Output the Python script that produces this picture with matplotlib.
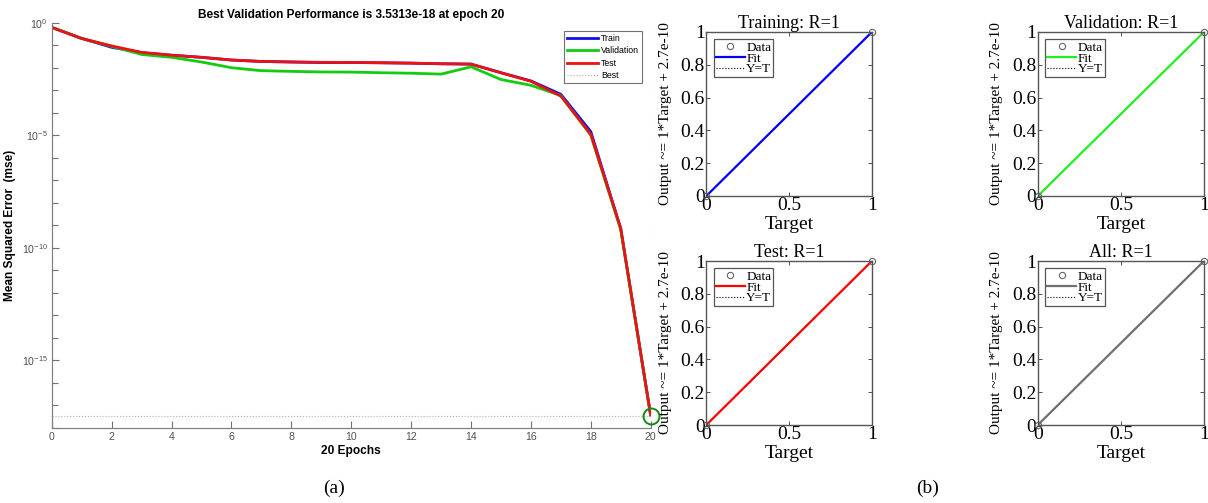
import matplotlib
matplotlib.use("Agg")
import matplotlib.pyplot as plt
from matplotlib.lines import Line2D
import matplotlib.ticker as mticker

plt.rcParams['mathtext.fontset'] = 'custom'
plt.rcParams['mathtext.rm'] = 'Liberation Sans'
plt.rcParams['mathtext.default'] = 'rm'

# ---------------- data ----------------
epochs = list(range(21))
train_mse = [0.62, 0.20, 0.081, 0.047, 0.036, 0.029, 0.022, 0.019, 0.018, 0.017, 0.017,
             0.0166, 0.016, 0.015, 0.0145, 6.0e-3, 2.6e-3, 6.6e-4, 1.45e-5, 7.2e-10, 3.5e-18]
val_mse = [0.62, 0.20, 0.089, 0.039, 0.029, 0.018, 0.010, 7.4e-3, 6.9e-3, 6.5e-3, 6.4e-3,
           6.0e-3, 5.7e-3, 5.2e-3, 0.011, 3.0e-3, 1.66e-3, 5.8e-4, 1.0e-5, 6.3e-10, 3.5313e-18]
test_mse = [0.62, 0.20, 0.093, 0.048, 0.036, 0.029, 0.022, 0.019, 0.018, 0.0174, 0.0172,
            0.0166, 0.016, 0.015, 0.0145, 6.0e-3, 2.5e-3, 5.5e-4, 1.1e-5, 7.2e-10, 3.6e-18]
best_epoch = 20
best_perf = 3.5313e-18
perf_title = "Best Validation Performance is 3.5313e-18 at epoch 20"
xticks_perf = [0, 2, 4, 6, 8, 10, 12, 14, 16, 18, 20]
yticks_perf = [1e0, 1e-5, 1e-10, 1e-15]
ytick_labels_perf = [r'$10^{0}$', r'$10^{-5}$', r'$10^{-10}$', r'$10^{-15}$']

reg_titles = ["Training: R=1", "Validation: R=1", "Test: R=1", "All: R=1"]
reg_colors = ["#0000ff", "#22ee22", "#ff0000", "#707070"]
reg_target = [0, 1]
reg_output = [0, 1]
reg_ylabel = "Output ~= 1*Target + 2.7e-10"
reg_xticks = [0, 0.5, 1]
reg_xticklabels = ["0", "0.5", "1"]
reg_yticks = [0, 0.2, 0.4, 0.6, 0.8, 1]
reg_yticklabels = ["0", "0.2", "0.4", "0.6", "0.8", "1"]

W, H = 1208, 503
fig = plt.figure(figsize=(W / 100, H / 100), dpi=100)
fig.patch.set_facecolor('white')

def frac(left, top, right, bottom):
    return [left / W, 1 - bottom / H, (right - left) / W, (bottom - top) / H]

# ---------------- (a) performance plot ----------------
sans = 'Liberation Sans'
ax = fig.add_axes(frac(51.7, 22.7, 650.7, 428))
ax.plot(epochs, train_mse, color='#1010ee', lw=2.0, label='Train', solid_capstyle='round')
ax.plot(epochs, val_mse, color='#11cc11', lw=2.0, label='Validation', solid_capstyle='round')
ax.plot(epochs, test_mse, color='#ee1111', lw=2.0, label='Test', solid_capstyle='round')
ax.axhline(best_perf, color='#a0b8a0', ls=':', lw=0.8)
ax.axvline(best_epoch, color='#a0b8a0', ls=':', lw=0.8)
ax.plot([best_epoch], [best_perf], 'o', ms=11.5, mfc='none', mec='#118811', mew=1.4,
        clip_on=False)
ax.set_yscale('log')
ax.set_xlim(0, 20)
ax.set_ylim(1e-18, 1e0)
ax.set_xticks(xticks_perf)
ax.set_xticklabels([str(v) for v in xticks_perf])
ax.set_yticks(yticks_perf)
ax.set_yticklabels(ytick_labels_perf)
ax.yaxis.set_minor_locator(mticker.LogLocator(base=10, subs=(1.0,), numticks=40))
ax.yaxis.set_minor_formatter(mticker.NullFormatter())
ax.tick_params(axis='both', which='both', direction='in', colors='#707070',
               labelcolor='#505050', labelsize=7.6, width=0.8)
ax.tick_params(axis='both', which='major', length=5, pad=3)
ax.tick_params(axis='y', which='minor', length=4)
for s in ['top', 'right']:
    ax.spines[s].set_visible(False)
for s in ['left', 'bottom']:
    ax.spines[s].set_color('#808080')
    ax.spines[s].set_linewidth(0.9)
for t in ax.get_xticklabels() + ax.get_yticklabels():
    t.set_family(sans)
ax.set_title(perf_title, fontsize=8.6, fontweight='bold', family=sans, pad=3.5)
ax.set_xlabel("20 Epochs", fontsize=8.6, fontweight='bold', family=sans, labelpad=2)
ax.set_ylabel("Mean Squared Error  (mse)", fontsize=8.6, fontweight='bold', family=sans,
              labelpad=4)
handles = [Line2D([], [], color='#1010ee', lw=2), Line2D([], [], color='#11cc11', lw=2),
           Line2D([], [], color='#ee1111', lw=2), Line2D([], [], color='#a0b8a0', lw=0.8, ls=':')]
leg = ax.legend(handles, ['Train', 'Validation', 'Test', 'Best'], loc='upper right',
                bbox_to_anchor=(0.9855, 0.980), fancybox=False, framealpha=1,
                prop={'family': sans, 'size': 6.3}, handlelength=3.6, handletextpad=0.3,
                labelspacing=0.4, borderpad=0.35, borderaxespad=0)
leg.get_frame().set_edgecolor('#707070')
leg.get_frame().set_linewidth(0.8)

# ---------------- (b) regression plots ----------------
serif = 'Liberation Serif'
boxes = [(706.3, 32, 871.9, 196), (1037.8, 32, 1204, 196),
         (706.3, 261, 871.9, 425), (1037.8, 261, 1204, 425)]
for i in range(4):
    l, t, r, b = boxes[i]
    a = fig.add_axes(frac(l, t, r, b))
    a.plot(reg_target, reg_target, ls=':', color='black', lw=0.8)
    a.plot(reg_target, reg_output, color=reg_colors[i], lw=1.6)
    a.plot(reg_target, reg_output, 'o', ms=4.5, mfc='none', mec='#666666', mew=0.8,
           clip_on=False)
    a.set_xlim(0, 1)
    a.set_ylim(0, 1)
    a.set_xticks(reg_xticks)
    a.set_xticklabels(reg_xticklabels)
    a.set_yticks(reg_yticks)
    a.set_yticklabels(reg_yticklabels)
    a.tick_params(direction='in', top=True, right=True, length=3, width=0.7,
                  colors='#505050', labelcolor='black', labelsize=14, pad=1)
    for tl in a.get_xticklabels() + a.get_yticklabels():
        tl.set_family(serif)
    for s in a.spines.values():
        s.set_color('#555555')
        s.set_linewidth(1.0)
    a.set_title(reg_titles[i], family=serif, fontsize=13, pad=3)
    a.set_xlabel("Target", family=serif, fontsize=14)
    a.xaxis.set_label_coords(0.5, -0.12)
    a.set_ylabel(reg_ylabel, family=serif, fontsize=11)
    a.yaxis.set_label_coords(-0.21, 0.5)
    h = [Line2D([], [], ls='none', marker='o', ms=4.5, mfc='none', mec='#666666', mew=0.8),
         Line2D([], [], color=reg_colors[i], lw=1.6),
         Line2D([], [], color='black', lw=0.8, ls=':')]
    lg = a.legend(h, ['Data', 'Fit', 'Y=T'], loc='upper left', bbox_to_anchor=(0.046, 0.955),
                  fancybox=False, framealpha=1, prop={'family': serif, 'size': 9.5},
                  handlelength=2.2, handletextpad=0.1, labelspacing=-0.1,
                  borderpad=0.15, borderaxespad=0)
    lg.get_frame().set_edgecolor('#555555')
    lg.get_frame().set_linewidth(0.9)

fig.text(334 / W, 1 - 488 / H, "(a)", family=serif, fontsize=14, ha='center', va='center')
fig.text(928 / W, 1 - 488 / H, "(b)", family=serif, fontsize=14, ha='center', va='center')

fig.savefig("out.png", dpi=100)
